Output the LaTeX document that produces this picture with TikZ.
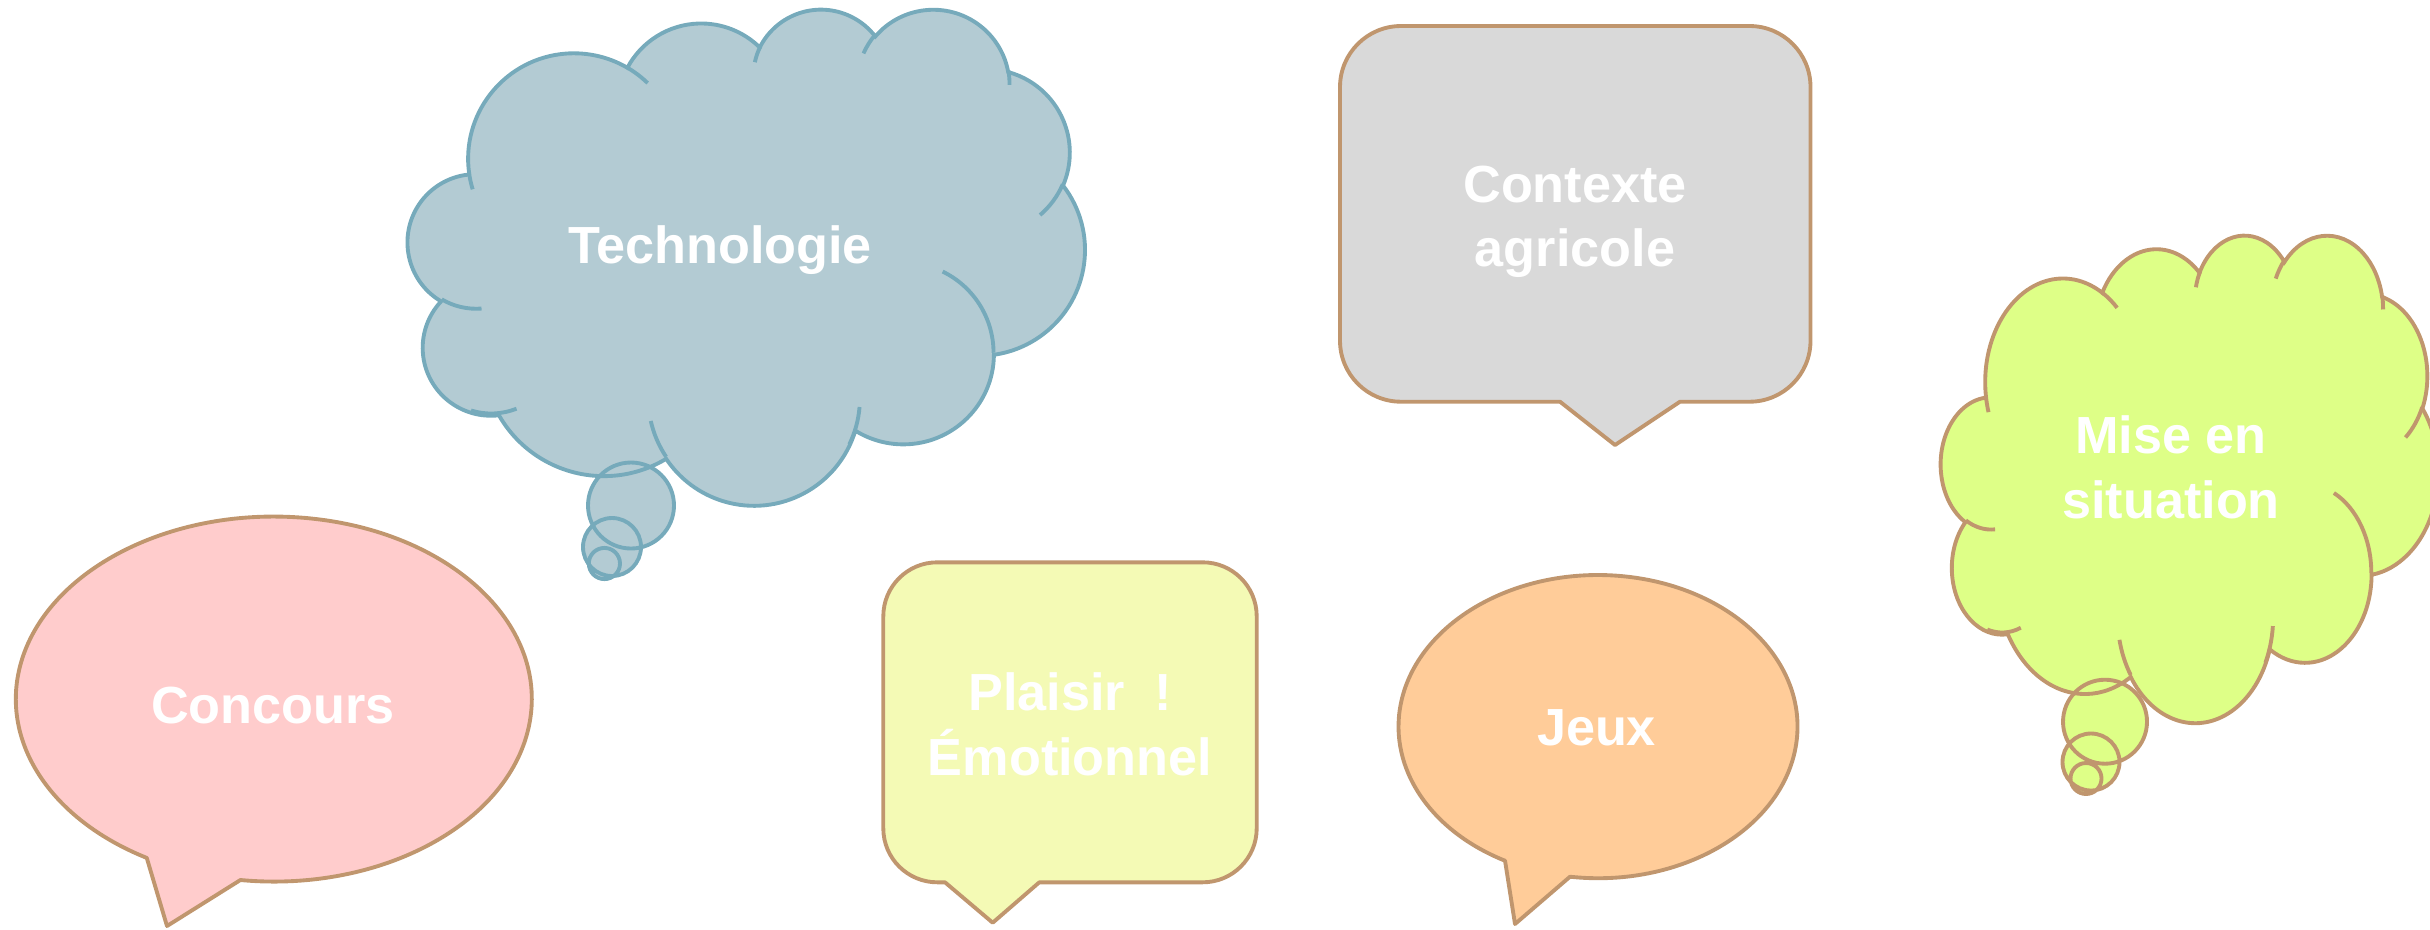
\documentclass[tikz,border=0pt]{standalone}
\usepackage{fontspec}
\setmainfont{Liberation Sans}
\usepackage{tikz}

\definecolor{edge}{RGB}{192,150,110}
\definecolor{techline}{RGB}{118,170,187}
\definecolor{techfill}{RGB}{179,203,211}
\definecolor{greyfill}{RGB}{217,217,217}
\definecolor{pinkfill}{RGB}{255,204,204}
\definecolor{lemonfill}{RGB}{244,250,181}
\definecolor{orangefill}{RGB}{255,204,153}
\definecolor{limefill}{RGB}{222,255,135}

% cloud outline in a 432 x 432 box (y going down)
\def\cloudpath{(39.00,143.70)
  arc[x radius=67.53, y radius=91.90, start angle=172.26, delta angle=128.12]
  arc[x radius=53.33, y radius=72.67, start angle=-152.02, delta angle=106.56]
  arc[x radius=43.65, y radius=59.45, start angle=-153.50, delta angle=116.17]
  arc[x radius=48.57, y radius=65.95, start angle=-139.71, delta angle=129.50]
  arc[x radius=53.33, y radius=72.73, start angle=-74.77, delta angle=97.98]
  arc[x radius=67.75, y radius=92.20, start angle=-37.52, delta angle=119.38]
  arc[x radius=57.85, y radius=78.67, start angle=0.46, delta angle=121.52]
  arc[x radius=67.52, y radius=92.15, start angle=16.84, delta angle=129.39]
  arc[x radius=77.20, y radius=105.43, start angle=58.98, delta angle=91.21]
  arc[x radius=43.60, y radius=59.18, start angle=83.31, delta angle=139.80]
  arc[x radius=43.45, y radius=59.45, start angle=120.36, delta angle=143.75]
  -- cycle}
% the short inner strokes of the cloud
\def\cloudticks{(46.93,261.77) arc[x radius=43.45, y radius=59.45, start angle=85.55, delta angle=34.82]
  (69.28,348.99) arc[x radius=43.60, y radius=59.18, start angle=68.24, delta angle=38.91]
  (164.78,390.90) arc[x radius=67.52, y radius=92.15, start angle=146.23, delta angle=21.23]
  (288.27,347.51) arc[x radius=67.52, y radius=92.15, start angle=4.74, delta angle=21.05]
  (341.29,229.54) arc[x radius=57.85, y radius=78.67, start angle=-64.02, delta angle=64.02]
  (417.98,153.54) arc[x radius=53.33, y radius=72.73, start angle=23.21, delta angle=26.44]
  (383.24,54.26) arc[x radius=48.57, y radius=65.95, start angle=-10.21, delta angle=11.03]
  (290.78,39.52) arc[x radius=48.57, y radius=65.95, start angle=-156.29, delta angle=16.58]
  (221.41,47.20) arc[x radius=43.65, y radius=59.45, start angle=-167.73, delta angle=14.23]
  (140.00,51.92) arc[x radius=67.53, y radius=91.90, start angle=-59.63, delta angle=13.89]
  (41.27,157.89) arc[x radius=67.53, y radius=91.90, start angle=163.20, delta angle=9.06]}

\begin{document}
\begin{tikzpicture}[
    x=0.01cm, y=-0.01cm,
    outline/.style={draw=edge, line width=1.1pt, line join=round},
    word/.style={text=white, font=\bfseries\fontsize{14.85}{18.35}\selectfont,
      align=center, inner sep=0pt, anchor=base}
    ]
  \useasboundingbox (0,0) rectangle (2430,929);

  % Technologie
  \begin{scope}[shift={(408,8)}, x=0.015648cm, y=-0.011481cm]
    \fill[techfill] \cloudpath;
  \end{scope}
  \fill[techfill] (631,505.5) circle[radius=43] (612,547) circle[radius=29]
    (604.4,563.5) circle[radius=15.6];
  \begin{scope}[shift={(408,8)}, x=0.015648cm, y=-0.011481cm,
      line width=1.1pt, draw=techline]
    \draw \cloudpath;
    \draw \cloudticks;
  \end{scope}
  \draw[techline, line width=1.1pt] (631,505.5) circle[radius=43]
    (612,547) circle[radius=29] (604.4,563.5) circle[radius=15.6];
  \node[word] (techno) at (720,263) {Technologie};

  % Mise en situation
  \begin{scope}[shift={(1941,234)}, x=0.011505cm, y=-0.011273cm]
    \fill[limefill] \cloudpath;
  \end{scope}
  \fill[limefill] (2105,721.7) circle[radius=42] (2091,762) circle[radius=28.5]
    (2086,778.5) circle[radius=15.5];
  \begin{scope}[shift={(1941,234)}, x=0.011505cm, y=-0.011273cm,
      line width=1.1pt, draw=edge]
    \draw \cloudpath;
    \draw \cloudticks;
  \end{scope}
  \draw[edge, line width=1.1pt] (2105,721.7) circle[radius=42]
    (2091,762) circle[radius=28.5] (2086,778.5) circle[radius=15.5];
  \node[word] (mise) at (2171,518.5) {Mise en\\situation};

  % Contexte agricole
  \draw[outline, fill=greyfill] (1560,401.7) -- (1401,401.7)
    arc[start angle=90, end angle=180, radius=61] -- (1340,87)
    arc[start angle=180, end angle=270, radius=61] -- (1749.5,26)
    arc[start angle=270, end angle=360, radius=61] -- (1810.5,340.7)
    arc[start angle=0, end angle=90, radius=61] -- (1680,401.7)
    -- (1615,445) -- cycle;
  \node[word] (contexte) at (1575,266.7) {Contexte\\agricole};

  % Plaisir
  \draw[outline, fill=lemonfill] (945,882.3) -- (937.3,882.3)
    arc[start angle=90, end angle=180, radius=54] -- (883.3,616.3)
    arc[start angle=180, end angle=270, radius=54] -- (1202.7,562.3)
    arc[start angle=270, end angle=360, radius=54] -- (1256.7,828.3)
    arc[start angle=0, end angle=90, radius=54] -- (1039.3,882.3)
    -- (992.7,922.7) -- cycle;
  \node[word] (plaisir) at (1070,775) {Plaisir~~!\\Émotionnel};

  % Concours
  \draw[outline, fill=pinkfill] (240.4,880)
    arc[x radius=258, y radius=182.5, start angle=97.44, delta angle=-337.94]
    -- (167,926) -- cycle;
  \node[word] (concours) at (273,723) {Concours};

  % Jeux
  \draw[outline, fill=orangefill] (1570,876.7)
    arc[x radius=199.5, y radius=151.6, start angle=98.07, delta angle=-340.29]
    -- (1515,924) -- cycle;
  \node[word] (jeux) at (1596.5,745.3) {Jeux};
\end{tikzpicture}
\end{document}
